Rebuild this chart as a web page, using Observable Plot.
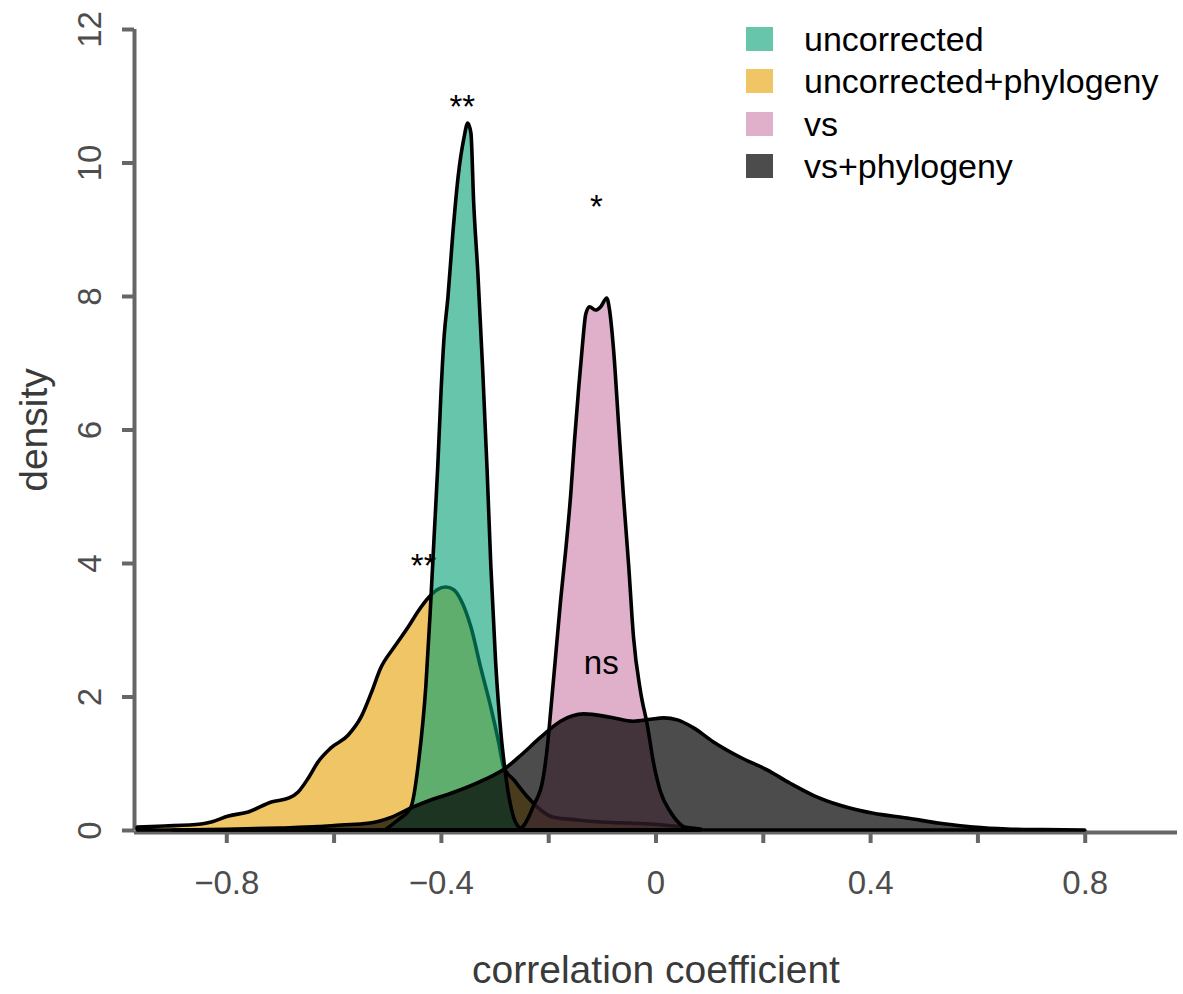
<!DOCTYPE html>
<html>
<head>
<meta charset="utf-8">
<script src="https://cdn.jsdelivr.net/npm/d3@7"></script>
<script src="https://cdn.jsdelivr.net/npm/@observablehq/plot@0.6"></script>
<style>
  body { margin: 0; background: #fff; }
  #wrap { position: relative; width: 1183px; height: 994px; font-family: "Liberation Sans", Arial, sans-serif; }
  #legend { position: absolute; left: 746px; top: 18px; }
  .row { display: flex; align-items: center; height: 42.3px; }
  .sw { width: 27px; height: 24px; margin-right: 31px; flex: none; }
  .lab { font-size: 34px; color: #000; line-height: 1; white-space: nowrap; }
</style>
</head>
<body>
<div id="wrap"><div id="legend"></div></div>
<script>
// ---- categories & styling keys ----
const categories = ["uncorrected", "uncorrected+phylogeny", "vs", "vs+phylogeny"];
const fillColors = ["#009E73", "#E69F00", "#CC79A7", "#000000"];
const fillOpacities = [0.6, 0.6, 0.6, 0.7];
const drawOrder = ["uncorrected+phylogeny", "uncorrected", "vs", "vs+phylogeny"];

// ---- density curves ----
const uncorrectedX = [-0.502, -0.480, -0.456, -0.441, -0.428, -0.420, -0.413, -0.406, -0.400, -0.394, -0.387, -0.378, -0.368, -0.357, -0.350, -0.344, -0.339, -0.331, -0.322, -0.314, -0.307, -0.298, -0.288, -0.281, -0.273, -0.264, -0.251];
const uncorrectedD = [0.015, 0.15, 0.34, 1.06, 2.16, 3.25, 4.34, 5.42, 6.52, 7.39, 7.97, 8.91, 9.78, 10.37, 10.59, 10.44, 9.42, 8.33, 6.88, 5.42, 3.97, 2.52, 1.44, 0.93, 0.49, 0.18, 0.015];

const uncorrPhyloX = [-0.966, -0.915, -0.847, -0.828, -0.796, -0.759, -0.716, -0.683, -0.666, -0.647, -0.629, -0.605, -0.573, -0.549, -0.530, -0.512, -0.487, -0.461, -0.443, -0.422, -0.407, -0.391, -0.376, -0.363, -0.344, -0.326, -0.307, -0.292, -0.283, -0.264, -0.238, -0.214, -0.190, -0.145, -0.102, -0.009, 0.052, 0.084];
const uncorrPhyloD = [0.045, 0.06, 0.09, 0.12, 0.21, 0.27, 0.42, 0.48, 0.57, 0.78, 1.02, 1.23, 1.42, 1.69, 2.05, 2.43, 2.74, 3.04, 3.27, 3.49, 3.60, 3.64, 3.60, 3.45, 3.04, 2.44, 1.84, 1.30, 0.94, 0.75, 0.49, 0.30, 0.19, 0.15, 0.12, 0.09, 0.045, 0.015];

const vsX = [-0.255, -0.246, -0.227, -0.210, -0.201, -0.195, -0.186, -0.177, -0.167, -0.158, -0.151, -0.143, -0.136, -0.130, -0.123, -0.112, -0.102, -0.091, -0.086, -0.078, -0.069, -0.060, -0.050, -0.041, -0.028, -0.015, -0.004, 0.009, 0.028, 0.050, 0.065];
const vsD = [0.0, 0.06, 0.37, 0.75, 1.29, 1.81, 2.62, 3.43, 4.22, 5.03, 5.83, 6.64, 7.28, 7.73, 7.84, 7.79, 7.84, 7.97, 7.81, 7.18, 6.10, 5.03, 3.96, 2.89, 2.08, 1.56, 1.02, 0.58, 0.27, 0.06, 0.0];

const vsPhyloX = [-0.90, -0.80, -0.70, -0.629, -0.586, -0.536, -0.493, -0.456, -0.419, -0.381, -0.320, -0.279, -0.251, -0.214, -0.177, -0.134, -0.084, -0.041, -0.009, 0.015, 0.041, 0.071, 0.108, 0.158, 0.208, 0.251, 0.294, 0.344, 0.406, 0.469, 0.530, 0.592, 0.655, 0.72, 0.80];
const vsPhyloD = [0.0, 0.01, 0.03, 0.05, 0.075, 0.10, 0.19, 0.33, 0.45, 0.55, 0.75, 0.93, 1.12, 1.39, 1.63, 1.74, 1.69, 1.63, 1.66, 1.68, 1.65, 1.53, 1.32, 1.09, 0.90, 0.70, 0.52, 0.37, 0.25, 0.18, 0.10, 0.045, 0.015, 0.005, 0.0];

// ---- significance annotations ----
const annotSeries = ["uncorrected", "uncorrected+phylogeny", "vs", "vs+phylogeny"];
const annotLabels = ["**", "**", "*", "ns"];
const annotX = [-0.361, -0.433, -0.111, -0.102];
const annotY = [10.68, 3.80, 9.18, 2.35];

// ---- axes ----
const xDomain = [-0.972, 0.972];
const yDomain = [0, 12];
const xTicks = [-0.8, -0.6, -0.4, -0.2, 0, 0.2, 0.4, 0.6, 0.8];
const xTickLabels = ["−0.8", "", "−0.4", "", "0", "", "0.4", "", "0.8"];
const yTicks = [0, 2, 4, 6, 8, 10, 12];
const yTickLabels = ["0", "2", "4", "6", "8", "10", "12"];
const xLabel = "correlation coefficient";
const yLabel = "density";

// ---- build table ----
const seriesXs = {"uncorrected": uncorrectedX, "uncorrected+phylogeny": uncorrPhyloX, "vs": vsX, "vs+phylogeny": vsPhyloX};
const seriesDs = {"uncorrected": uncorrectedD, "uncorrected+phylogeny": uncorrPhyloD, "vs": vsD, "vs+phylogeny": vsPhyloD};
const rows = [];
for (const s of categories) seriesXs[s].forEach((x, i) => rows.push({series: s, x, d: seriesDs[s][i]}));
const annots = annotLabels.map((t, i) => ({series: annotSeries[i], text: t, x: annotX[i], y: annotY[i]}));

const font = "Liberation Sans, Arial, sans-serif";
const areaMarks = [];
for (const s of drawOrder) {
  const k = categories.indexOf(s);
  areaMarks.push(Plot.areaY(rows.filter(r => r.series === s), {
    x: "x", y: "d", curve: "monotone-x",
    fill: fillColors[k], fillOpacity: fillOpacities[k],
    stroke: "#000", strokeWidth: 3.6, strokeLinejoin: "round"
  }));
  areaMarks.push(Plot.text(annots.filter(a => a.series === s), {
    x: "x", y: "y", text: "text", fontSize: 33, fill: "#000", lineAnchor: "bottom", fontFamily: font
  }));
}

const chart = Plot.plot({
  width: 1183, height: 994,
  marginLeft: 134, marginRight: 6, marginTop: 29, marginBottom: 164,
  x: {domain: xDomain},
  y: {domain: yDomain},
  style: {fontFamily: font, background: "#fff", overflow: "visible"},
  marks: [
    Plot.axisX({ticks: xTicks, tickSize: 13, tickPadding: 27, stroke: "#666", strokeWidth: 4,
      tickFormat: (d) => xTickLabels[xTicks.indexOf(d)], fontSize: 33, fill: "#4d4d4d", label: null}),
    Plot.axisY({ticks: yTicks, tickSize: 12, stroke: "#666", strokeWidth: 4, tickFormat: () => "", label: null}),
    Plot.ruleY([yDomain[0]], {stroke: "#666", strokeWidth: 4, dy: 2}),
    Plot.ruleX([xDomain[0]], {stroke: "#666", strokeWidth: 4}),
    ...areaMarks,
    Plot.text(yTicks, {y: d => d, text: (d, i) => yTickLabels[i], frameAnchor: "left", dx: -34,
      rotate: -90, textAnchor: "middle", lineAnchor: "bottom", fontSize: 33, fill: "#4d4d4d", fontFamily: font}),
    Plot.text([xLabel], {frameAnchor: "bottom", dy: 152, textAnchor: "middle", lineAnchor: "bottom", fontSize: 39, fill: "#3a3a3a", fontFamily: font}),
    Plot.text([yLabel], {frameAnchor: "left", dx: -88, rotate: -90, textAnchor: "middle", lineAnchor: "bottom", fontSize: 39, fill: "#3a3a3a", fontFamily: font})
  ]
});
document.getElementById("wrap").prepend(chart);

// ---- legend ----
const legend = d3.select("#legend");
categories.forEach((c, i) => {
  const row = legend.append("div").attr("class", "row");
  row.append("div").attr("class", "sw")
    .style("background", fillColors[i]).style("opacity", fillOpacities[i]);
  row.append("div").attr("class", "lab").text(c);
});
</script>
</body>
</html>
